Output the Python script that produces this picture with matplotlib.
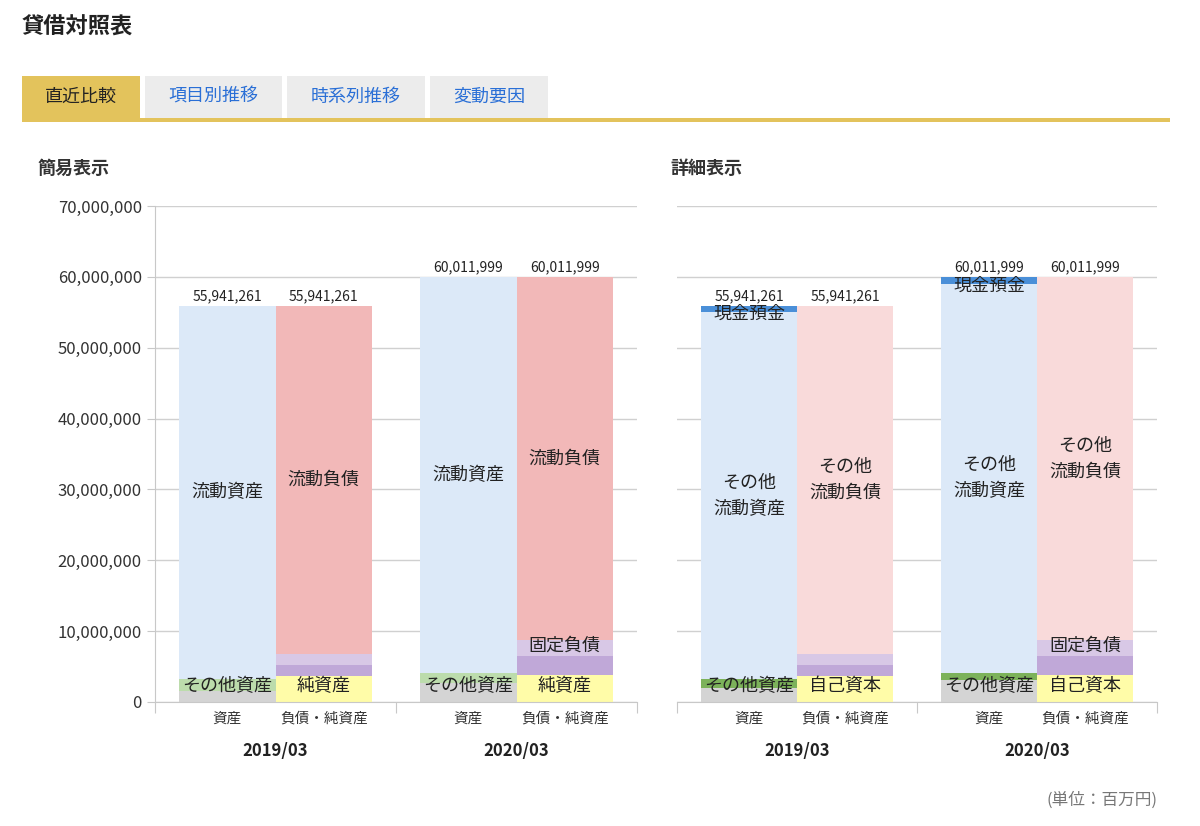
import matplotlib
matplotlib.use("Agg")
import matplotlib.pyplot as plt
from matplotlib.patches import Rectangle
import matplotlib.ticker as mt

plt.rcParams['font.family'] = ['Noto Sans CJK JP']

years = ["2019/03", "2020/03"]
totals = [55941261, 60011999]
# simple view (millions-scale units in raw yen-like values)
other_assets_gray = [1500000, 2700000]
other_assets_green = [1700000, 1400000]
net_assets = [3700000, 3800000]
fixed_liab_dark = [1500000, 2700000]
fixed_liab_light = [1600000, 2200000]
# detail view
cash = [900000, 1000000]
detail_gray = [2000000, 3100000]
detail_green = [1200000, 1000000]

C_BLUE = "#dce9f8"; C_RED = "#f2b8b8"; C_PINK = "#f9dada"
C_LP = "#d8c8e6"; C_P = "#c0a8d8"; C_Y = "#fffca8"
C_G = "#bcdcac"; C_DG = "#7cb25a"; C_GR = "#d4d4d4"; C_CASH = "#4a8fd8"

fig = plt.figure(figsize=(12, 8.26), dpi=100)
W, H = 1200, 826
def fx(p): return p / W
def fy(p): return 1 - p / H

fig.text(fx(22), fy(27), "貸借対照表", fontsize=16, fontweight="bold", va="center", color="#222")
tabs = [("直近比較", 22, 140), ("項目別推移", 145, 282), ("時系列推移", 287, 425), ("変動要因", 430, 548)]
for i, (t, a, b) in enumerate(tabs):
    fig.patches.append(Rectangle((fx(a), fy(118)), fx(b - a), (118 - 76) / H, transform=fig.transFigure,
                                 facecolor="#e3c35c" if i == 0 else "#ececec", edgecolor="none"))
    fig.text(fx((a + b) / 2), fy(97), t, fontsize=13, ha="center", va="center",
             color="#222" if i == 0 else "#2a6fd6")
fig.patches.append(Rectangle((fx(22), fy(122)), fx(1170 - 22), 4 / H, transform=fig.transFigure,
                             facecolor="#e3c35c", edgecolor="none"))
fig.text(fx(38), fy(168), "簡易表示", fontsize=13, fontweight="bold", va="center", color="#333")
fig.text(fx(670), fy(168), "詳細表示", fontsize=13, fontweight="bold", va="center", color="#333")
fig.text(fx(1158), fy(800), "(単位：百万円)", fontsize=12, ha="right", va="center", color="#777")

ax1 = fig.add_axes([fx(155), fy(702), fx(637 - 155), (702 - 206) / H])
ax2 = fig.add_axes([fx(677), fy(702), fx(1157 - 677), (702 - 206) / H])
bw = 0.8
A = [0.6, 2.6]; L = [1.4, 3.4]

def seg(ax, x, b, h, c, label=None, fs=13, ly=None):
    ax.bar(x, h, bw, bottom=b, color=c, linewidth=0)
    if label:
        lines = label.split("\n")
        ax.text(x, ly if ly is not None else b + h / 2, label, ha="center", va="center",
                fontsize=fs, color="#222", linespacing=1.6)

for ax, detail in [(ax1, False), (ax2, True)]:
    for i in range(2):
        T = totals[i]
        if not detail:
            g, gr = other_assets_gray[i], other_assets_green[i]
            seg(ax, A[i], 0, g, C_GR); seg(ax, A[i], g, gr, C_G)
            seg(ax, A[i], g + gr, T - g - gr, C_BLUE, "流動資産")
            ax.text(A[i], 2300000, "その他資産", ha="center", va="center", fontsize=13, color="#222")
        else:
            g, gr, c = detail_gray[i], detail_green[i], cash[i]
            seg(ax, A[i], 0, g, C_GR); seg(ax, A[i], g, gr, C_DG)
            seg(ax, A[i], g + gr, T - g - gr - c, C_BLUE, "その他\n流動資産")
            seg(ax, A[i], T - c, c, C_CASH)
            ax.text(A[i], T - c - 200000, "現金預金", ha="center", va="center", fontsize=13, color="#222")
            ax.text(A[i], 2300000, "その他資産", ha="center", va="center", fontsize=13, color="#222")
        n, d, l = net_assets[i], fixed_liab_dark[i], fixed_liab_light[i]
        seg(ax, L[i], 0, n, C_Y, "自己資本" if detail else "純資産", ly=2300000)
        seg(ax, L[i], n, d, C_P)
        seg(ax, L[i], n + d, l, C_LP, "固定負債" if i == 1 else None, ly=n + d + l * 0.5 - 300000 + 700000)
        seg(ax, L[i], n + d + l, T - n - d - l, C_PINK if detail else C_RED,
            "その他\n流動負債" if detail else "流動負債")
        for x in (A[i], L[i]):
            ax.text(x, T + 300000, f"{T:,}", ha="center", va="bottom", fontsize=10, color="#222")
        ax.text(A[i], -2300000, "資産", ha="center", va="center", fontsize=10.5, color="#333")
        ax.text(L[i], -2300000, "負債・純資産", ha="center", va="center", fontsize=10.5, color="#333")
        ax.text(1.0 + 2 * i, -6900000, years[i], ha="center", va="center", fontsize=12,
                fontweight="bold", color="#222")
    ax.set_xlim(0, 4); ax.set_ylim(0, 70000000)
    ax.set_yticks(range(0, 70000001, 10000000))
    ax.yaxis.set_major_formatter(mt.FuncFormatter(lambda v, p: f"{int(v):,}"))
    ax.grid(axis="y", color="#d0d0d0", linewidth=1)
    ax.set_axisbelow(True)
    for s in ("top", "right"):
        ax.spines[s].set_visible(False)
    ax.spines["bottom"].set_color("#c8c8c8")
    ax.spines["left"].set_color("#c8c8c8")
    ax.set_xticks([0, 2, 4]); ax.set_xticklabels([])
    ax.tick_params(axis="x", length=8, color="#c8c8c8", direction="out")
    ax.tick_params(axis="y", length=6, color="#c8c8c8", labelsize=12, labelcolor="#333")
ax2.spines["left"].set_visible(False)
ax2.tick_params(axis="y", length=0, labelleft=False)
fig.savefig("out.png", dpi=100)
